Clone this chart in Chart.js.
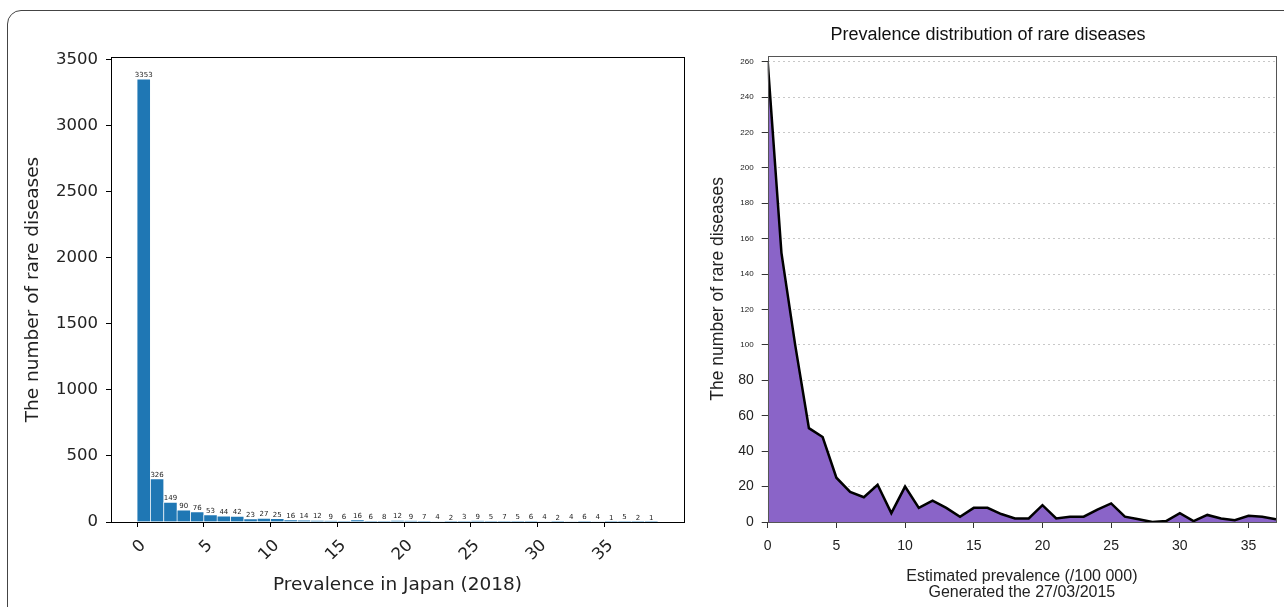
<!DOCTYPE html>
<html lang="en">
<head>
    <meta charset="UTF-8">
    <title>Prevalence of rare diseases</title>
    <script src="https://cdn.jsdelivr.net/npm/chart.js"></script>
    <style>
        body {
            margin: 0;
            background: #fff;
            width: 1284px;
            height: 607px;
            overflow: hidden;
            position: relative;
        }
        .frame {
            position: absolute;
            left: 7px;
            top: 10px;
            width: 1300px;
            height: 620px;
            border: 1px solid #444;
            border-radius: 14px;
        }
        .panel {
            position: absolute;
            top: 0;
            height: 607px;
        }
        #left { left: 0; width: 700px; }
        #right { left: 700px; width: 584px; }
    </style>
</head>
<body>
    <div class="frame"></div>
    <div class="panel" id="left"><canvas id="jpChart" width="700" height="607"></canvas></div>
    <div class="panel" id="right"><canvas id="frChart" width="584" height="607"></canvas></div>

    <script>
        // Japan 2018: number of diseases per prevalence bin [i, i+1)
        const jpBins = [0, 1, 2, 3, 4, 5, 6, 7, 8, 9, 10, 11, 12, 13, 14, 15, 16, 17, 18, 19,
                        20, 21, 22, 23, 24, 25, 26, 27, 28, 29, 30, 31, 32, 33, 34, 35, 36, 37, 38];
        const jpCounts = [3353, 326, 149, 90, 76, 53, 44, 42, 23, 27, 25, 16, 14, 12, 9, 6, 16, 6, 8, 12,
                          9, 7, 4, 2, 3, 9, 5, 7, 5, 6, 4, 2, 4, 6, 4, 1, 5, 2, 1];
        const jpYTicks = [0, 500, 1000, 1500, 2000, 2500, 3000, 3500];
        const jpXTicks = [0, 5, 10, 15, 20, 25, 30, 35];

        // Orphanet 2015: estimated prevalence (/100 000)
        const frPrevalence = [0, 1, 2, 3, 4, 5, 6, 7, 8, 9, 10, 11, 12, 13, 14, 15, 16, 17, 18,
                              19, 20, 21, 22, 23, 24, 25, 26, 27, 28, 29, 30, 31, 32, 33, 34, 35, 36, 37];
        const frCounts = [260, 152, 100, 53, 48, 25, 17, 14, 21, 5, 20, 8, 12, 8, 3, 8, 8, 4.5, 2,
                          2, 9.5, 2, 3, 3, 7, 10.5, 3, 1.5, 0, 0.5, 5, 0.5, 4, 2, 1, 3.5, 3, 1.5];
        const frYTicks = [0, 20, 40, 60, 80, 100, 120, 140, 160, 180, 200, 220, 240, 260];
        const frXTicks = [0, 5, 10, 15, 20, 25, 30, 35];

        // box around the plotting area
        const boxPlugin = {
            id: 'box',
            afterDraw(chart, args, opts) {
                const a = chart.chartArea, ctx = chart.ctx;
                ctx.save();
                ctx.strokeStyle = opts.color;
                ctx.lineWidth = 1;
                ctx.strokeRect(Math.round(a.left) + 0.5, Math.round(a.top) + 0.5,
                               Math.round(a.right - a.left), Math.round(a.bottom - a.top));
                ctx.restore();
            }
        };

        // small count label above each bar
        const barLabels = {
            id: 'barLabels',
            afterDatasetsDraw(chart) {
                const ctx = chart.ctx;
                const meta = chart.getDatasetMeta(0);
                ctx.save();
                ctx.font = '7px "DejaVu Sans"';
                ctx.fillStyle = '#222';
                ctx.textAlign = 'center';
                ctx.textBaseline = 'bottom';
                meta.data.forEach((bar, i) => {
                    ctx.fillText(String(jpCounts[i]), bar.x, bar.y - 0.5);
                });
                ctx.restore();
            }
        };

        const mplFont = 'DejaVu Sans';

        new Chart(document.getElementById('jpChart'), {
            type: 'bar',
            data: {
                datasets: [{
                    data: jpBins.map((b, i) => ({ x: b + 0.5, y: jpCounts[i] })),
                    backgroundColor: '#1f77b4',
                    borderColor: '#ffffff',
                    borderWidth: 0.7,
                    barPercentage: 1,
                    categoryPercentage: 1
                }]
            },
            options: {
                responsive: false,
                devicePixelRatio: 1,
                animation: false,
                layout: { padding: { top: 57, right: 16, left: 0, bottom: 0 } },
                plugins: {
                    legend: { display: false },
                    tooltip: { enabled: false },
                    box: { color: '#000' }
                },
                scales: {
                    x: {
                        type: 'linear',
                        offset: false,
                        min: -1.95,
                        max: 40.95,
                        afterBuildTicks: s => { s.ticks = jpXTicks.map(v => ({ value: v })); },
                        afterFit: s => { s.height = 85; },
                        grid: { offset: false, drawOnChartArea: false, color: '#000', tickLength: 5 },
                        border: { display: false },
                        ticks: {
                            minRotation: 45,
                            maxRotation: 45,
                            padding: 9,
                            labelOffset: 6,
                            callback: v => String(v),
                            color: '#222',
                            font: { family: mplFont, size: 16.5 }
                        },
                        title: {
                            display: true,
                            text: 'Prevalence in Japan (2018)',
                            color: '#222',
                            font: { family: mplFont, size: 18.5 },
                            padding: { top: 0, bottom: 11 }
                        }
                    },
                    y: {
                        min: 0,
                        max: 3520.65,
                        afterBuildTicks: s => { s.ticks = jpYTicks.map(v => ({ value: v })); },
                        afterFit: s => { s.width = 111; },
                        grid: { drawOnChartArea: false, color: '#000', tickLength: 5 },
                        border: { display: false },
                        ticks: {
                            padding: 8,
                            callback: v => String(v),
                            color: '#222',
                            font: { family: mplFont, size: 16.5 }
                        },
                        title: {
                            display: true,
                            text: 'The number of rare diseases',
                            color: '#222',
                            font: { family: mplFont, size: 18.5 },
                            padding: { top: 22, bottom: 0 }
                        }
                    }
                }
            },
            plugins: [boxPlugin, barLabels]
        });

        const rFont = 'Liberation Sans';

        new Chart(document.getElementById('frChart'), {
            type: 'line',
            data: {
                datasets: [{
                    data: frPrevalence.map((p, i) => ({ x: p, y: frCounts[i] })),
                    borderColor: '#000',
                    borderWidth: 2.5,
                    backgroundColor: '#8a64c8',
                    fill: 'origin',
                    pointRadius: 0,
                    tension: 0
                }]
            },
            options: {
                responsive: false,
                devicePixelRatio: 1,
                animation: false,
                layout: { padding: { top: 0, right: 8, left: 0, bottom: 0 } },
                plugins: {
                    legend: { display: false },
                    tooltip: { enabled: false },
                    box: { color: '#555' },
                    title: {
                        display: true,
                        text: 'Prevalence distribution of rare diseases',
                        color: '#111',
                        font: { family: rFont, size: 18, weight: 'normal' },
                        padding: { top: 24, bottom: 10 }
                    }
                },
                scales: {
                    x: {
                        type: 'linear',
                        min: 0,
                        max: 37,
                        afterBuildTicks: s => { s.ticks = frXTicks.map(v => ({ value: v })); },
                        afterFit: s => { s.height = 85; },
                        grid: { drawOnChartArea: false, color: '#333', tickLength: 6 },
                        border: { display: false },
                        ticks: {
                            padding: 10,
                            maxRotation: 0,
                            color: '#222',
                            font: { family: rFont, size: 14 }
                        },
                        title: {
                            display: true,
                            text: ['Estimated prevalence (/100 000)', 'Generated the 27/03/2015'],
                            color: '#222',
                            font: { family: rFont, size: 16, lineHeight: 1 },
                            padding: { top: 0, bottom: 6 }
                        }
                    },
                    y: {
                        min: 0,
                        max: 263.4,
                        afterBuildTicks: s => { s.ticks = frYTicks.map(v => ({ value: v })); },
                        afterFit: s => { s.width = 67.7; },
                        grid: { color: '#c8c8c8', tickColor: '#333', tickLength: 6, tickBorderDash: [] },
                        border: { display: false, dash: [2, 3] },
                        ticks: {
                            padding: 8,
                            color: '#222',
                            font: c => ({ family: rFont, size: (c.tick && c.tick.value >= 100) ? 8 : 14 })
                        },
                        title: {
                            display: true,
                            text: 'The number of rare diseases',
                            color: '#222',
                            font: { family: rFont, size: 17.5 },
                            padding: { top: 7.5, bottom: 0 }
                        }
                    }
                }
            },
            plugins: [boxPlugin]
        });
    </script>
</body>
</html>
